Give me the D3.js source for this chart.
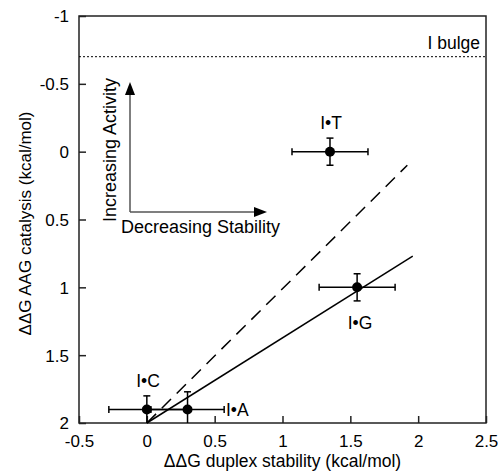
<!DOCTYPE html>
<html><head><meta charset="utf-8">
<script src="https://cdn.jsdelivr.net/npm/d3@7"></script>
<style>body{margin:0;background:#fff}text{font-family:"Liberation Sans",Arial,sans-serif;fill:#000}</style>
</head><body><svg id="c" width="498" height="476"></svg>
<script>
const labels = ["I•C", "I•A", "I•T", "I•G"];
const xVals = [0, 0.3, 1.35, 1.55];
const yVals = [1.9, 1.9, 0, 1.0];
const xErr = [0.28, 0.27, 0.28, 0.28];
const yErr = [0.1, 0.13, 0.1, 0.1];
const solidX = [0, 1.96], solidY = [2, 0.77];
const dashedX = [0, 1.92], dashedY = [2, 0.1];
const bulgeY = -0.7;
const xTicks = [-0.5, 0, 0.5, 1, 1.5, 2, 2.5];
const yTicks = [-1, -0.5, 0, 0.5, 1, 1.5, 2];

const svg = d3.select("#c");
const L = 79, R = 486, T = 16, B = 423;
const x = d3.scaleLinear().domain([-0.5, 2.5]).range([L, R]);
const y = d3.scaleLinear().domain([-1, 2]).range([T, B]);
const fmt = d => String(d);

svg.append("rect").attr("x", L).attr("y", T).attr("width", R - L).attr("height", B - T)
  .attr("fill", "none").attr("stroke", "#222").attr("stroke-width", 1.5);

const xa = svg.append("g").attr("transform", `translate(0,${B})`)
  .call(d3.axisBottom(x).tickValues(xTicks).tickSizeInner(-7).tickSizeOuter(0).tickPadding(12).tickFormat(fmt));
const ya = svg.append("g").attr("transform", `translate(${L},0)`)
  .call(d3.axisLeft(y).tickValues(yTicks).tickSizeInner(-7).tickSizeOuter(0).tickPadding(10).tickFormat(fmt));
[xa, ya].forEach(a => {
  a.select(".domain").remove();
  a.selectAll("line").attr("stroke", "#222").attr("stroke-width", 1.5);
  a.selectAll("text").attr("font-size", 17).attr("font-family", '"Liberation Sans",Arial,sans-serif').attr("fill", "#000");
});
ya.selectAll("text").attr("dy", "0.35em");

svg.append("text").attr("x", (L + R) / 2).attr("y", 467).attr("text-anchor", "middle")
  .attr("font-size", 17.5).text("ΔΔG duplex stability (kcal/mol)");
svg.append("text").attr("transform", `translate(31,${(T + B) / 2 + 4}) rotate(-90)`).attr("text-anchor", "middle")
  .attr("font-size", 17).text("ΔΔG AAG catalysis (kcal/mol)");

svg.append("line").attr("x1", L).attr("x2", R).attr("y1", y(bulgeY)).attr("y2", y(bulgeY))
  .attr("stroke", "#000").attr("stroke-width", 1).attr("stroke-dasharray", "2,2");
svg.append("text").attr("x", 480).attr("y", 49).attr("text-anchor", "end").attr("font-size", 17.5).text("I bulge");

const line = d3.line().x(d => x(d[0])).y(d => y(d[1]));
svg.append("path").attr("d", line(d3.zip(solidX, solidY))).attr("stroke", "#000").attr("stroke-width", 1.5).attr("fill", "none");
svg.append("path").attr("d", line(d3.zip(dashedX, dashedY))).attr("stroke", "#000").attr("stroke-width", 1.5)
  .attr("fill", "none").attr("stroke-dasharray", "13,8");

const pts = labels.map((l, i) => ({l, x: xVals[i], y: yVals[i], ex: xErr[i], ey: yErr[i]}));
const g = svg.append("g").attr("stroke", "#000").attr("stroke-width", 1.5);
pts.forEach(p => {
  g.append("line").attr("x1", x(p.x - p.ex)).attr("x2", x(p.x + p.ex)).attr("y1", y(p.y)).attr("y2", y(p.y));
  [p.x - p.ex, p.x + p.ex].forEach(v => g.append("line").attr("x1", x(v)).attr("x2", x(v)).attr("y1", y(p.y) - 3.5).attr("y2", y(p.y) + 3.5));
  g.append("line").attr("x1", x(p.x)).attr("x2", x(p.x)).attr("y1", y(p.y - p.ey)).attr("y2", Math.min(y(p.y + p.ey), B));
  [p.y - p.ey, p.y + p.ey].forEach(v => { if (y(v) < B) g.append("line").attr("x1", x(p.x) - 3.5).attr("x2", x(p.x) + 3.5).attr("y1", y(v)).attr("y2", y(v)); });
});
svg.selectAll("circle.pt").data(pts).join("circle").attr("class", "pt")
  .attr("cx", d => x(d.x)).attr("cy", d => y(d.y)).attr("r", 5).attr("fill", "#000");

const labPos = {"I•C": [148, 387, "middle"], "I•A": [226, 416, "start"], "I•T": [331, 129, "middle"], "I•G": [360, 329, "middle"]};
pts.forEach(p => {
  const [lx, ly, a] = labPos[p.l];
  svg.append("text").attr("x", lx).attr("y", ly).attr("text-anchor", a).attr("font-size", 17.5).text(p.l);
});

const ax0 = 130, ay0 = 212;
svg.append("line").attr("x1", ax0).attr("x2", ax0).attr("y1", ay0).attr("y2", 92).attr("stroke", "#555").attr("stroke-width", 1.5);
svg.append("path").attr("d", `M${ax0},82 L${ax0 - 5},95 L${ax0 + 5},95 Z`).attr("fill", "#000");
svg.append("line").attr("x1", ax0).attr("x2", 257).attr("y1", ay0).attr("y2", ay0).attr("stroke", "#555").attr("stroke-width", 1.5);
svg.append("path").attr("d", `M267,${ay0} L254,${ay0 - 5} L254,${ay0 + 5} Z`).attr("fill", "#000");
svg.append("text").attr("transform", "translate(116,222) rotate(-90)").attr("font-size", 18).text("Increasing Activity");
svg.append("text").attr("x", 121).attr("y", 233).attr("font-size", 18).text("Decreasing Stability");
</script></body></html>
